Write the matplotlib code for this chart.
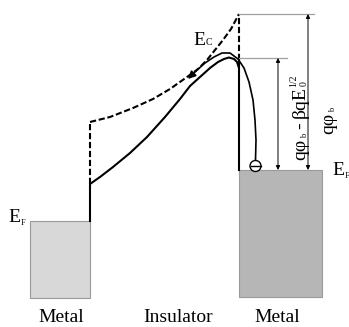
import matplotlib
matplotlib.use("Agg")
import matplotlib.pyplot as plt
from matplotlib.patches import Rectangle, Circle

plt.rcParams["font.family"] = "Liberation Serif"

# Layer names along the bottom and their centres
regions = ["Metal", "Insulator", "Metal"]
region_x = [61, 178, 277]

# Metal blocks as (left, right, Fermi level, bottom); energy axis points down
metal_left = (30, 90, 221, 298)
metal_right = (239, 322, 170, 297)

# Barrier height qφ_b and the lowered maximum qφ_b - βqE0^1/2
barrier_top = 14
lowered_top = 58

# Conduction band edge without image-force lowering (dashed)
ec_x = [90, 110, 133, 153, 170, 187, 198, 207, 215, 223, 231, 239]
ec_y = [122, 117, 108, 99, 89, 77, 69, 60, 50, 40, 29, 14]

# Lowered band edge under the applied field (solid)
band_x = [90, 100, 113, 130, 147, 165, 180, 190, 200, 210, 218, 224, 229, 234, 237, 239]
band_y = [184, 177, 167, 153, 137, 117, 99, 86, 77, 68, 62, 59, 57.5, 59, 62, 68]

# Electron emitted over the lowered barrier
path_x = [255.5, 256, 255, 253, 249, 244, 238, 230, 222, 214, 205, 196, 188]
path_y = [160, 140, 120, 100, 82, 68, 59, 53, 53, 57, 63, 71, 79]
electron = (255.5, 166)

fig = plt.figure(figsize=(3.49, 3.27), dpi=100)
ax = fig.add_axes([0, 0, 1, 1])
ax.set_xlim(0, 349)
ax.set_ylim(327, 0)
ax.axis("off")
renderer = fig.canvas.get_renderer()


def label(x, y, pieces, rotation=0):
    """Lay out text pieces one after another; each piece is
    (text, fontsize, baseline rise in px, gap after in px)."""
    pos = 0
    for s, size, rise, gap in pieces:
        if rotation == 90:
            tx, ty = x - rise, y - pos
        else:
            tx, ty = x + pos, y - rise
        t = ax.text(tx, ty, s, fontsize=size, rotation=rotation,
                    rotation_mode="anchor", ha="left", va="baseline")
        bb = t.get_window_extent(renderer)
        pos += (bb.height if rotation == 90 else bb.width) + gap


# metal blocks
x0, x1, ef, bot = metal_left
ax.add_patch(Rectangle((x0, ef), x1 - x0, bot - ef, facecolor="#d8d8d8",
                       edgecolor="#9a9a9a", lw=0.8))
x0, x1, ef, bot = metal_right
ax.add_patch(Rectangle((x0, ef), x1 - x0, bot - ef, facecolor="#b6b6b6",
                       edgecolor="#9a9a9a", lw=0.8))

dash = (0, (3, 1.3))
lw = 1.5

# left interface: solid up to the band, dashed up to the unlowered edge
ax.plot([metal_left[1]] * 2, [metal_left[2], band_y[0]], color="black", lw=lw)
ax.plot([metal_left[1]] * 2, [band_y[0], ec_y[0]], color="black", lw=lw, ls=dash)

# right interface
ax.plot([metal_right[0]] * 2, [metal_right[2], band_y[-1] - 8], color="black", lw=lw)
ax.plot([metal_right[0]] * 2, [band_y[-1] - 8, barrier_top], color="black", lw=lw, ls=dash)

ax.plot(ec_x, ec_y, color="black", lw=lw, ls=dash)
ax.plot(band_x, band_y, color="black", lw=lw, solid_capstyle="round")

# electron trajectory with arrow
ax.plot(path_x[:-1], path_y[:-1], color="black", lw=1.2)
ax.annotate("", xy=(path_x[-1], path_y[-1]), xytext=(path_x[-2], path_y[-2]),
            arrowprops=dict(arrowstyle="-|>", color="black", lw=1.2,
                            mutation_scale=11, shrinkA=0, shrinkB=0))
ax.add_patch(Circle(electron, 5.5, facecolor="white", edgecolor="black", lw=1.0, zorder=3))
ax.plot([electron[0] - 5, electron[0] + 5], [electron[1]] * 2, color="black", lw=1.0, zorder=4)

# reference levels and height markers
ax.plot([metal_right[0], 314], [barrier_top] * 2, color="#a0a0a0", lw=0.9)
ax.plot([metal_right[0], 287], [lowered_top] * 2, color="#a0a0a0", lw=0.9)
for xa, ytop in [(278, lowered_top), (308, barrier_top)]:
    ax.annotate("", xy=(xa, ytop), xytext=(xa, metal_right[2]),
                arrowprops=dict(arrowstyle="<|-|>", color="black", lw=0.7,
                                mutation_scale=6, shrinkA=0, shrinkB=0))

fs = 14
label(305, 160, [("qφ", fs, 0, 1), ("b", 6, -2, 5), ("-", fs, 0, 4),
                 ("βqE", fs, 0, 0), ("0", 7, -2, -6), ("1/2", 7, 9, 0)], rotation=90)
label(333, 134, [("qφ", fs, 0, 1), ("b", 6, -2, 0)], rotation=90)
label(193, 45, [("E", fs, 0, 1), ("C", 7, 0, 0)])
label(8, 222, [("E", fs, 0, 1), ("F", 6, -3, 0)])
label(332, 175, [("E", fs, 0, 1), ("F", 6, -3, 0)])

for name, xc in zip(regions, region_x):
    ax.text(xc, 322, name, ha="center", va="baseline", fontsize=14)

fig.savefig("out.png", dpi=100)
